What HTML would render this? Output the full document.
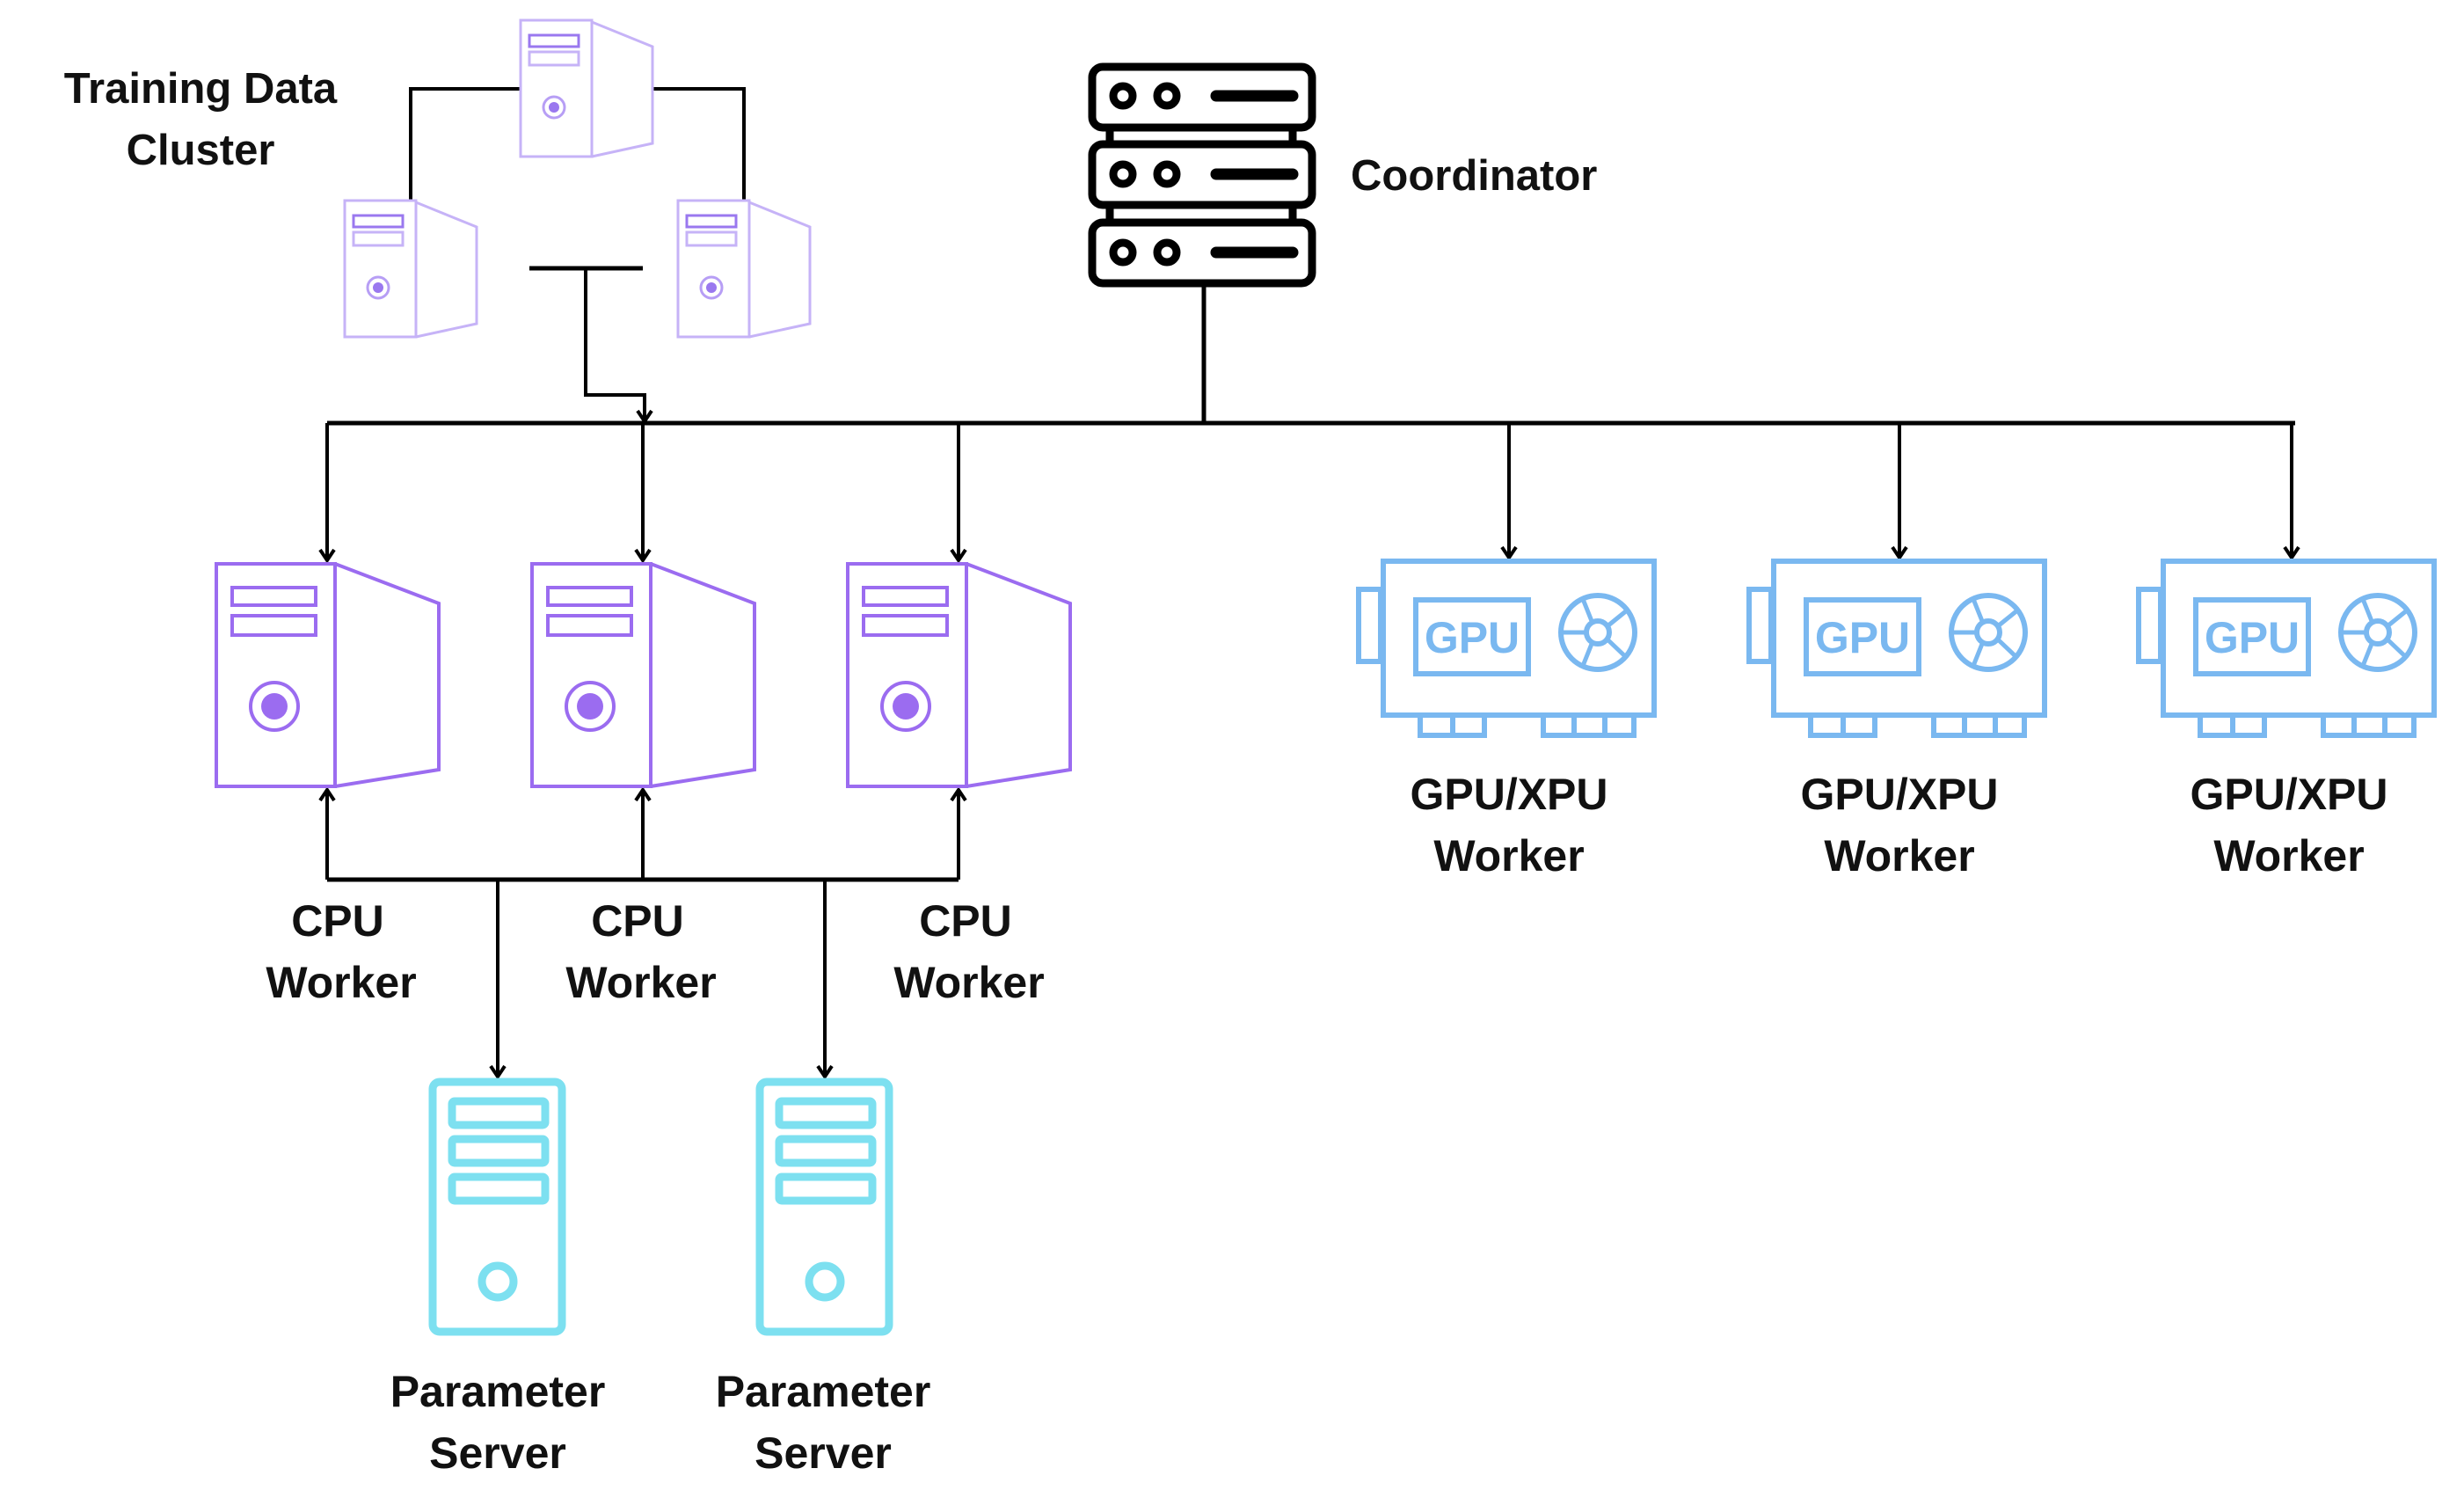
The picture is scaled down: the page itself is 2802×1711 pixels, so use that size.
<!DOCTYPE html>
<html><head><meta charset="utf-8"><style>
html,body{margin:0;padding:0;background:#fff;}
svg{display:block;}
text{font-family:"Liberation Sans",sans-serif;font-weight:bold;fill:#111;}
</style></head><body>
<svg width="2802" height="1711" viewBox="0 0 2802 1711" xmlns="http://www.w3.org/2000/svg">
<defs>
<marker id="ah" viewBox="0 0 20 20" refX="18" refY="10" markerWidth="20" markerHeight="20" markerUnits="userSpaceOnUse" orient="auto-start-reverse">
<path d="M6,2 L18,10 L6,18" fill="none" stroke="#000" stroke-width="4"/>
</marker>
<g id="cs">
<rect x="0" y="0" width="81" height="155" fill="#fff" stroke="#c6b3f7" stroke-width="3"/>
<path d="M81,2 L150,30 L150,140 L81,155" fill="none" stroke="#c6b3f7" stroke-width="3"/>
<rect x="10" y="17" width="56" height="13" fill="none" stroke="#9a78ef" stroke-width="3"/>
<rect x="10" y="36" width="56" height="15" fill="none" stroke="#c6b3f7" stroke-width="3"/>
<circle cx="38" cy="99" r="12" fill="none" stroke="#b79ef5" stroke-width="3"/>
<circle cx="38" cy="99" r="6" fill="#9a78ef"/>
</g>
<g id="cpu">
<rect x="0" y="0" width="135" height="253" fill="#fff" stroke="#9b6cf0" stroke-width="4"/>
<path d="M135,0 L253,45 L253,234 L135,253" fill="none" stroke="#9b6cf0" stroke-width="4"/>
<rect x="18" y="27" width="95" height="20" fill="none" stroke="#9b6cf0" stroke-width="4"/>
<rect x="18" y="59" width="95" height="22" fill="none" stroke="#9b6cf0" stroke-width="4"/>
<circle cx="66" cy="162" r="27" fill="none" stroke="#9b6cf0" stroke-width="4"/>
<circle cx="66" cy="162" r="15" fill="#9b6cf0"/>
</g>
<g id="ps">
<rect x="0" y="0" width="147" height="284" rx="8" fill="#fff" stroke="#7de0f0" stroke-width="9"/>
<rect x="22" y="22" width="106" height="27" rx="3" fill="none" stroke="#7de0f0" stroke-width="9"/>
<rect x="22" y="65" width="106" height="27" rx="3" fill="none" stroke="#7de0f0" stroke-width="9"/>
<rect x="22" y="108" width="106" height="27" rx="3" fill="none" stroke="#7de0f0" stroke-width="9"/>
<circle cx="74" cy="227" r="18" fill="none" stroke="#7de0f0" stroke-width="9"/>
</g>
<g id="gpu" fill="none" stroke="#7ab8f0" stroke-width="6">
<rect x="1545" y="670" width="25" height="82"/>
<rect x="1573" y="638" width="308" height="175" fill="#fff"/>
<rect x="1610" y="682" width="128" height="84"/>
<text x="1674" y="742" text-anchor="middle" style="font-family:'Liberation Sans',sans-serif;font-weight:bold;font-size:50px;fill:#7ab8f0;stroke:none">GPU</text>
<circle cx="1817" cy="719" r="42"/>
<circle cx="1817" cy="719" r="13"/>
<path d="M1810,706 L1800,681 M1829,711 L1850,694 M1829,728 L1850,748 M1810,732 L1800,757 M1804,719 L1776,719" stroke-width="5"/>
<path d="M1615,813 L1615,836 L1688,836 L1688,813 M1652,813 L1652,836"/>
<path d="M1755,813 L1755,836 L1858,836 L1858,813 M1790,813 L1790,836 M1825,813 L1825,836"/>
</g>
</defs>

<text x="228" y="117" text-anchor="middle" font-size="49">Training Data</text>
<text x="228" y="187" text-anchor="middle" font-size="49">Cluster</text>
<path d="M594,101 L467,101 L467,228 M742,101 L846,101 L846,228" fill="none" stroke="#000" stroke-width="4"/>
<use href="#cs" x="592" y="23"/>
<use href="#cs" x="392" y="228"/>
<use href="#cs" x="771" y="228"/>
<path d="M602,305 L731,305" stroke="#000" stroke-width="5"/>
<path d="M666,305 L666,449 L733,449 L733,479" fill="none" stroke="#000" stroke-width="4" marker-end="url(#ah)"/>

<g fill="#fff" stroke="#000" stroke-width="9">
<rect x="1262" y="140" width="208" height="115"/>
<rect x="1262" y="228" width="208" height="30"/>
<rect x="1242" y="76" width="250" height="69" rx="12"/>
<rect x="1242" y="164" width="250" height="69" rx="12"/>
<rect x="1242" y="253" width="250" height="69" rx="12"/>
<circle cx="1277" cy="109" r="11"/><circle cx="1327" cy="109" r="11"/>
<circle cx="1277" cy="198" r="11"/><circle cx="1327" cy="198" r="11"/>
<circle cx="1277" cy="287" r="11"/><circle cx="1327" cy="287" r="11"/>
</g>
<path d="M1383,109 L1470,109 M1383,198 L1470,198 M1383,287 L1470,287" stroke="#000" stroke-width="13" stroke-linecap="round"/>
<text x="1536" y="216" font-size="49">Coordinator</text>

<g fill="none" stroke="#000" stroke-width="5">
<path d="M1369,326 L1369,481"/>
<path d="M372,481 L2610,481"/>
</g>
<g fill="none" stroke="#000" stroke-width="4" marker-end="url(#ah)">
<path d="M372,481 L372,637"/>
<path d="M731,481 L731,637"/>
<path d="M1090,481 L1090,637"/>
<path d="M1716,481 L1716,634"/>
<path d="M2160,481 L2160,634"/>
<path d="M2606,481 L2606,634"/>
</g>

<use href="#cpu" x="246" y="641"/>
<use href="#cpu" x="605" y="641"/>
<use href="#cpu" x="964" y="641"/>
<path d="M372,1000 L1090,1000" stroke="#000" stroke-width="5"/>
<g fill="none" stroke="#000" stroke-width="4" marker-end="url(#ah)">
<path d="M372,1000 L372,898"/>
<path d="M731,1000 L731,898"/>
<path d="M1090,1000 L1090,898"/>
<path d="M566,1000 L566,1224"/>
<path d="M938,1000 L938,1224"/>
</g>
<g font-size="50" text-anchor="middle">
<text x="384" y="1064">CPU</text><text x="388" y="1134">Worker</text>
<text x="725" y="1064">CPU</text><text x="729" y="1134">Worker</text>
<text x="1098" y="1064">CPU</text><text x="1102" y="1134">Worker</text>
</g>

<use href="#ps" x="492" y="1230"/>
<use href="#ps" x="864" y="1230"/>
<g font-size="50" text-anchor="middle">
<text x="566" y="1599">Parameter</text><text x="566" y="1669">Server</text>
<text x="936" y="1599">Parameter</text><text x="936" y="1669">Server</text>
</g>

<use href="#gpu" x="0" y="0"/>
<use href="#gpu" x="444" y="0"/>
<use href="#gpu" x="887" y="0"/>
<g font-size="50" text-anchor="middle">
<text x="1716" y="920">GPU/XPU</text><text x="1716" y="990">Worker</text>
<text x="2160" y="920">GPU/XPU</text><text x="2160" y="990">Worker</text>
<text x="2603" y="920">GPU/XPU</text><text x="2603" y="990">Worker</text>
</g>
</svg>
</body></html>
